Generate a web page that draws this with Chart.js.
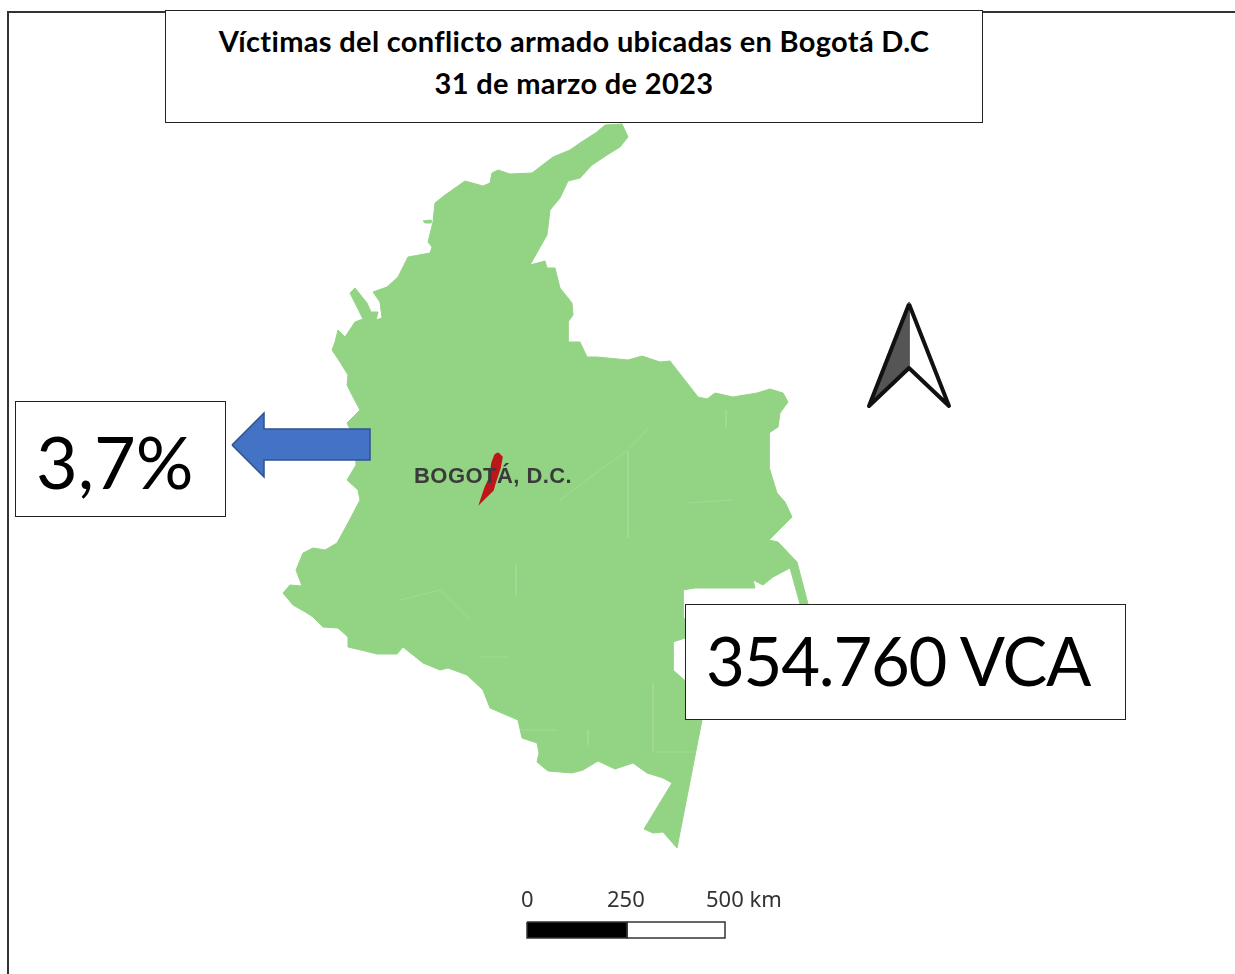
<!DOCTYPE html>
<html lang="es">
<head>
<meta charset="utf-8">
<title>Víctimas del conflicto armado en Bogotá D.C</title>
<script src="https://cdn.jsdelivr.net/npm/chart.js@4/dist/chart.umd.min.js"></script>
<style>
    html, body { margin: 0; background: #fff; overflow: hidden; }
    #wrap { position: relative; width: 1235px; height: 974px; overflow: hidden; }
    #canvas { position: absolute; left: 0; top: 0; filter: blur(0.5px); }
    #frame { position: absolute; left: 7px; top: 11px; width: 1240px; height: 980px; border: 2px solid #333; box-sizing: border-box; }
    .box { position: absolute; background: #fff; border: 1px solid #222; box-sizing: border-box; }
    .txt { position: absolute; white-space: nowrap; color: #000; }
    #titleBox { left: 165px; top: 10px; width: 818px; height: 113px; }
    .title { left: 165px; width: 818px; text-align: center; font: 700 29px/34px Lato, sans-serif; letter-spacing: 0.33px; }
    #pctBox { left: 15px; top: 401px; width: 211px; height: 116px; }
    #vcaBox { left: 685px; top: 604px; width: 441px; height: 116px; }
    .big { font: 400 72px/80px Lato, sans-serif; }
    #pct { left: 36px; top: 421px; }
    #vca { left: 706px; top: 620px; font-size: 67px; letter-spacing: -1.25px; }
    #place { left: 414px; top: 463px; font: 700 22px/26px "Liberation Sans", sans-serif; color: #3a3a3a; letter-spacing: 0.45px; filter: blur(0.5px); }
    .scale { top: 884px; font: 400 22px/28px "Noto Sans", sans-serif; color: #333; filter: blur(0.5px); }
</style>
</head>
<body>
<div id="wrap">
    <div id="frame"></div>
    <canvas id="canvas" width="1235" height="974"></canvas>
    <div class="box" id="titleBox"></div>
    <div class="txt title" id="title1" style="top:24px"></div>
    <div class="txt title" id="title2" style="top:66px"></div>
    <div class="box" id="pctBox"></div>
    <div class="txt big" id="pct"></div>
    <div class="box" id="vcaBox"></div>
    <div class="txt big" id="vca"></div>
    <div class="txt" id="place"></div>
    <div class="txt scale" id="s0" style="left:521px"></div>
    <div class="txt scale" id="s1" style="left:607px"></div>
    <div class="txt scale" id="s2" style="left:706px"></div>
</div>
<script>
var titleLines = ["Víctimas del conflicto armado ubicadas en Bogotá D.C", "31 de marzo de 2023"];
var shareLabel = "3,7%";
var victimsLabel = "354.760 VCA";
var placeLabel = "BOGOTÁ, D.C.";
var scaleLabels = ["0", "250", "500 km"];

// map, x / y in picture units
var colombia = [[597,132],[605,125],[622,124],[628,137],[620,147],[607,155],[592,165],[580,178],[568,181],[560,198],[550,210],[547,235],[530,265],
    [545,261],[547,268],[555,268],[560,288],[572,303],[573,315],[568,322],[568,342],[580,342],[587,357],[597,357],[628,360],[642,356],[660,362],[670,361],
    [698,397],[707,399],[715,393],[733,397],[757,393],[770,389],[783,393],[788,402],[780,413],[778,427],[769,433],[769,467],[777,493],[785,502],[792,517],
    [769,540],[778,542],[797,562],[808,604],[800,604],[790,568],[773,577],[763,585],[753,580],[755,588],[695,588],[683,590],[683,617],[690,625],[685,638],
    [673,642],[673,670],[690,685],[702,720],[677,848],[663,832],[653,833],[644,829],[672,783],[663,778],[647,773],[633,763],[615,769],[598,761],[583,770],
    [572,773],[548,771],[537,762],[539,753],[537,743],[522,738],[518,720],[490,708],[483,690],[467,675],[448,668],[440,670],[423,663],[403,647],[397,654],
    [377,654],[365,651],[348,647],[348,637],[338,628],[323,627],[313,617],[307,613],[293,605],[283,593],[290,585],[302,586],[296,570],[303,553],[313,548],
    [325,550],[337,543],[348,523],[360,500],[358,490],[347,480],[356,465],[355,440],[347,423],[360,410],[352,395],[347,385],[348,375],[340,362],[332,350],
    [335,342],[338,330],[345,337],[355,322],[363,319],[350,293],[355,288],[367,303],[371,312],[378,312],[376,320],[382,318],[380,302],[373,292],[387,287],
    [398,277],[408,257],[430,253],[432,247],[428,242],[433,222],[435,203],[445,195],[465,181],[483,186],[490,183],[492,173],[498,170],[510,174],[532,173],
    [553,157],[570,150],[580,143]];
var islet = [[423,221],[431,220],[431,223],[425,223]];
var bogota = [[498,453],[502,457],[500,468],[495,483],[493,490],[483,500],[480,503],[485,488],[490,477],[492,463],[495,455]];
var borders = [[628,451],[628,538],null,[628,450],[648,428],null,[726,410],[726,428],null,[653,683],[653,752],[693,752],null,[520,730],[557,730],null,
    [588,730],[588,745],null,[480,657],[508,657],null,[516,565],[516,595],null,[687,503],[733,500],null,[400,600],[440,590],[470,620],null,[560,500],[600,470],[628,450]];

var blueArrow = [[232,445],[264,413],[264,429],[370,429],[370,460],[264,460],[264,477]];
var northLeft = [[909,302],[909,368],[868,407]];
var northOutline = [[909,304],[949,406],[909,368],[869,406]];
var scaleBlack = [[527,922],[627,922],[627,938],[527,938]];
var scaleWhite = [[627,922],[725,922],[725,938],[627,938]];

function toPoints(list) {
    return list.map(function (p) {
        return p ? { x: p[0], y: p[1] } : { x: null, y: null };
    });
}

function shape(list, fillColor, lineColor, lineWidth) {
    return {
        data: toPoints(list.concat([list[0]])),
        showLine: true,
        fill: 'shape',
        tension: 0,
        pointRadius: 0,
        backgroundColor: fillColor,
        borderColor: lineColor,
        borderWidth: lineWidth
    };
}

document.getElementById("title1").textContent = titleLines[0];
document.getElementById("title2").textContent = titleLines[1];
document.getElementById("pct").textContent = shareLabel;
document.getElementById("vca").textContent = victimsLabel;
document.getElementById("place").textContent = placeLabel;
for (var i = 0; i < scaleLabels.length; i++) {
    document.getElementById("s" + i).textContent = scaleLabels[i];
}

var myChart = new Chart(document.getElementById("canvas"), {
    type: 'scatter',
    data: {
        datasets: [
            // first dataset ends up on top
            shape(bogota, '#bd1519', '#bd1519', 1.5),
            shape(blueArrow, '#4472c4', '#2f528f', 1.5),
            {
                data: toPoints(northOutline.concat([northOutline[0]])),
                showLine: true, tension: 0, pointRadius: 0,
                borderColor: '#111', borderWidth: 4, borderJoinStyle: 'round'
            },
            shape(northLeft, '#555', '#555', 1),
            shape(scaleBlack, '#000', '#333', 1.5),
            shape(scaleWhite, '#fff', '#333', 1.5),
            {
                data: toPoints(borders),
                showLine: true, tension: 0, pointRadius: 0,
                borderColor: '#a3d995', borderWidth: 1
            },
            shape(islet, '#93d384', '#93d384', 1),
            shape(colombia, '#93d384', '#93d384', 1)
        ]
    },
    options: {
        responsive: false,
        animation: false,
        layout: { padding: 0 },
        plugins: { legend: { display: false }, tooltip: { enabled: false }, title: { display: false } },
        scales: {
            x: { type: 'linear', display: false, min: 0, max: 1235 },
            y: { type: 'linear', display: false, min: 0, max: 974, reverse: true }
        }
    }
});
</script>
</body>
</html>
